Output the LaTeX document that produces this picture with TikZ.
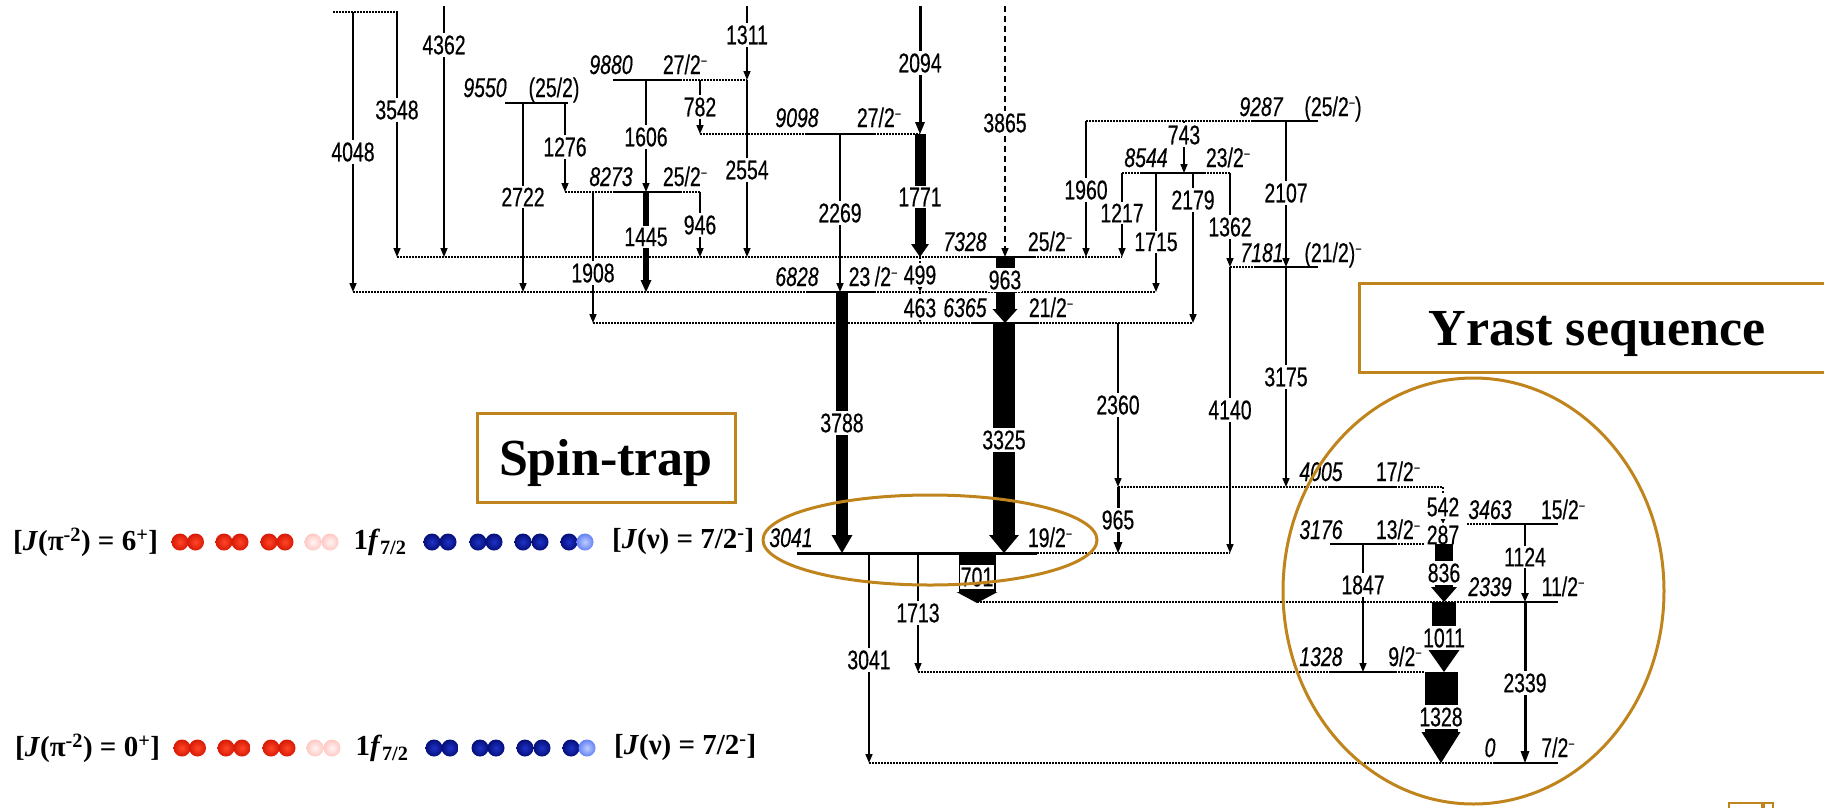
\documentclass[tikz,border=0pt]{standalone}
\usepackage{fontspec}
\setmainfont{Liberation Serif}
\newfontfamily\lvlfont[FakeStretch=0.72,FakeBold=0.4]{Liberation Sans}
\usetikzlibrary{arrows.meta}
\definecolor{gold}{RGB}{192,132,28}
\definecolor{redA}{RGB}{255,70,40}
\definecolor{redB}{RGB}{215,25,5}
\definecolor{pinkA}{RGB}{255,245,243}
\definecolor{pinkB}{RGB}{255,200,195}
\definecolor{blueA}{RGB}{30,50,200}
\definecolor{blueB}{RGB}{5,15,120}
\definecolor{lblueA}{RGB}{190,205,255}
\definecolor{lblueB}{RGB}{100,130,245}
\newcommand\mn{\raisebox{0.55ex}{\fontsize{15}{15}\selectfont −}}
\newcommand\barr[8]{%
  \fill (#1-#4/2,#2) rectangle (#1+#4/2,#3-#6);
  \fill (#1-#5/2,#3-#6) -- (#1+#5/2,#3-#6) -- (#1,#3) -- cycle;
  \node[glab] (g#7) at (#1,#8) {#7};}
\tikzset{
  lev/.style={line width=1.6pt},
  levd/.style={line width=1.3pt, dash pattern=on 1.5pt off 1.5pt},
  gam/.style={line width=1.5pt, -{Triangle[length=9pt,width=7pt]}},
  gdot/.style={line width=1.5pt, dash pattern=on 2pt off 2pt, -{Triangle[length=6pt,width=5pt]}},
  gdash/.style={line width=1.5pt, dash pattern=on 6pt off 4pt, -{Triangle[length=9pt,width=7pt]}},
  glab/.style={fill=white, inner xsep=0.5pt, inner ysep=2pt, font=\lvlfont\fontsize{27}{29}\selectfont},
  elab/.style={inner sep=0pt, anchor=base, font=\lvlfont\itshape\fontsize{27}{29}\selectfont},
  slab/.style={inner sep=0pt, anchor=base, font=\lvlfont\fontsize{27}{29}\selectfont},
  hl/.style={draw=gold, line width=3pt},
  big/.style={font=\bfseries\fontsize{52}{56}\selectfont, inner sep=0pt, anchor=base},
  conf/.style={font=\bfseries\fontsize{29}{31}\selectfont, inner sep=0pt},
}
\begin{document}
\begin{tikzpicture}[x=1pt,y=-1pt]
\useasboundingbox (0,0) rectangle (1824,807);
% ---------------- levels ----------------
\draw[levd] (333,12) -- (398,12);
\draw[lev] (613,80) -- (680,80); \draw[levd] (680,80) -- (747,80);
\draw[lev] (505,103) -- (568,103);
\draw[levd] (1086,121) -- (1253,121); \draw[lev] (1253,121) -- (1318,121);
\draw[levd] (700,134) -- (807,134); \draw[lev] (807,134) -- (874,134); \draw[levd] (874,134) -- (920,134);
\draw[levd] (1122,173) -- (1140,173); \draw[lev] (1140,173) -- (1204,173); \draw[levd] (1204,173) -- (1230,173);
\draw[levd] (565,192) -- (615,192); \draw[lev] (615,192) -- (680,192); \draw[levd] (680,192) -- (700,192);
\draw[levd] (397,257) -- (972,257); \draw[lev] (972,257) -- (1034,257); \draw[levd] (1034,257) -- (1122,257);
\draw[levd] (1230,267) -- (1254,267); \draw[lev] (1254,267) -- (1318,267);
\draw[levd] (353,292) -- (807,292); \draw[lev] (807,292) -- (874,292); \draw[levd] (874,292) -- (1156,292);
\draw[levd] (593,323) -- (973,323); \draw[lev] (973,323) -- (1037,323); \draw[levd] (1037,323) -- (1193,323);
\draw[levd] (1118,487) -- (1329,487); \draw[lev] (1329,487) -- (1395,487); \draw[levd] (1395,487) -- (1443,487);
\draw[levd] (1467,524) -- (1492,524); \draw[lev] (1492,524) -- (1558,524);
\draw[lev] (1330,544) -- (1395,544); \draw[levd] (1395,544) -- (1424,544);
\draw[line width=3pt] (797,553) -- (1037,553); \draw[levd] (1037,553) -- (1230,553);
\draw[levd] (977,602) -- (1492,602); \draw[lev] (1492,602) -- (1558,602);
\draw[levd] (918,672) -- (1330,672); \draw[lev] (1330,672) -- (1395,672); \draw[levd] (1395,672) -- (1425,672);
\draw[levd] (869,763) -- (1494,763); \draw[lev] (1494,763) -- (1558,763);
% ---------------- level labels ----------------
\foreach \x/\y/\t in {485/88/9550, 611/65/9880, 611/177/8273, 797/118/9098, 797/277/6828,
  965/242/7328, 965/308/6365, 1261/107/9287, 1146/158/8544, 1262/253/7181, 1321/472/4005,
  791/538/3041, 1490/510/3463, 1321/530/3176, 1490/587/2339, 1321/657/1328, 1490/748/0}
  \node[elab] (e\t) at (\x,\y+9) {\t};
\node[slab] (s9550) at (554,97) {(25/2)};
\node[slab] (s9880) at (685,74) {27/2\mn};
\node[slab] (s8273) at (685,186) {25/2\mn};
\node[slab] (s9098) at (879,127) {27/2\mn};
\node[slab] (s6828) at (873,286) {23\,/2\mn};
\node[slab] (s7328) at (1050,251) {25/2\mn};
\node[slab] (s6365) at (1051,317) {21/2\mn};
\node[slab] (s9287) at (1333,116) {(25/2\mn)};
\node[slab] (s8544) at (1228,167) {23/2\mn};
\node[slab] (s7181) at (1333,262) {(21/2)\mn};
\node[slab] (s4005) at (1398,481) {17/2\mn};
\node[slab] (s3041) at (1050,547) {19/2\mn};
\node[slab] (s3463) at (1563,519) {15/2\mn};
\node[slab] (s3176) at (1398,539) {13/2\mn};
\node[slab] (s2339) at (1563,596) {11/2\mn};
\node[slab] (s1328) at (1405,666) {9/2\mn};
\node[slab] (s0) at (1558,757) {7/2\mn};
% ---------------- thin transitions ----------------
\foreach \x/\ya/\yb/\lab/\yl in {353/12/292/4048/152, 397/12/257/3548/110, 444/6/257/4362/45,
  523/103/292/2722/197, 565/103/192/1276/147, 646/80/192/1606/137, 593/192/323/1908/273,
  700/80/134/782/107, 700/192/257/946/225, 747/6/80/1311/35, 747/80/257/2554/170,
  840/134/292/2269/213, 1086/121/257/1960/190, 1184/121/173/743/135, 1122/173/257/1217/213,
  1156/173/292/1715/242, 1193/173/323/2179/200, 1230/173/267/1362/227, 1286/121/267/2107/193,
  1118/323/487/2360/405, 1230/267/553/4140/410, 1286/267/487/3175/377, 869/553/763/3041/660,
  918/553/672/1713/613, 1363/544/672/1847/585}
  {\draw[gam] (\x,\ya) -- (\x,\yb); \node[glab] (g\lab) at (\x,\yl) {\lab};}
\draw[gam, line width=2.5pt] (1525,524) -- (1525,602); \node[glab] (g1124) at (1525,557) {1124};
\draw[gdash] (1005,6) -- (1005,257); \node[glab] (g3865) at (1005,123) {3865};
\foreach \x/\ya/\yb/\lab/\yl in {920/257/292/499/275, 920/292/323/463/308, 1443/487/524/542/507, 1443/524/544/287/535}
  {\draw[gdot] (\x,\ya) -- (\x,\yb); \node[glab] (g\lab) at (\x,\yl) {\lab};}
% ---------------- thick transitions ----------------
\barr{920}{6}{134}{3}{10}{12}{2094}{63}
\barr{920}{134}{257}{11}{18}{13}{1771}{197}
\barr{1005}{257}{323}{19}{25}{14}{963}{280}
\barr{646}{192}{292}{6}{11}{12}{1445}{237}
\barr{842}{292}{553}{12}{21}{18}{3788}{423}
\barr{1004}{323}{553}{22}{30}{18}{3325}{440}
\barr{1118}{487}{553}{3}{9}{11}{965}{520}
\barr{977}{553}{603}{37}{41}{11}{701}{577}
\barr{1444}{544}{602}{18}{26}{15}{836}{573}
\barr{1444}{602}{672}{24}{31}{22}{1011}{638}
\barr{1441}{672}{763}{33}{39}{31}{1328}{717}
\barr{1525}{602}{763}{3}{9}{12}{2339}{683}
% ---------------- highlights ----------------
\draw[hl] (930,540) ellipse [x radius=167pt, y radius=45pt];
\draw[hl] (1473.5,591) ellipse [x radius=190.5pt, y radius=213pt];
\draw[hl] (477,413) rectangle (735,502);
\node[big] (spin) at (606,475) {Spin-trap};
\draw[hl] (1828,283) -- (1359,283) -- (1359,372) -- (1828,372);
\node[big] (yrast) at (1597,345) {Yrast sequence};
\draw[gold, line width=1.5pt] (1729,812) -- (1729,803) -- (1773,803) -- (1773,812);
\fill[gold] (1761,802) rectangle (1765,808);
% ---------------- configurations ----------------
\foreach \yy/\dx/\J/\jj in {542/0/6/c1, 748/2/0/c2}{
  \node[conf, anchor=west] (\jj l) at (13+\dx,\yy) {[\textit{J}(π\textsuperscript{-2}) = \J\textsuperscript{+}]};
  \foreach \x in {180,195.5,224,240,269,285}
    \shade[inner color=redA, outer color=redB] (\x+\dx,\yy) circle[radius=8.5pt];
  \foreach \x in {313,330}
    \shade[inner color=pinkA, outer color=pinkB] (\x+\dx,\yy) circle[radius=8.5pt];
  \node[conf] (\jj f) at (380+\dx,\yy) {1\textit{f}\textsubscript{7/2}};
  \foreach \x in {432,448,478,494,523,540,569}
    \shade[inner color=blueA, outer color=blueB] (\x+\dx,\yy) circle[radius=8.5pt];
  \shade[inner color=lblueA, outer color=lblueB] (585+\dx,\yy) circle[radius=8.5pt];
  \node[conf, anchor=west] (\jj r) at (612+\dx,\yy) {[\textit{J}(ν) = 7/2\textsuperscript{-}]};
}
\end{tikzpicture}
\end{document}
